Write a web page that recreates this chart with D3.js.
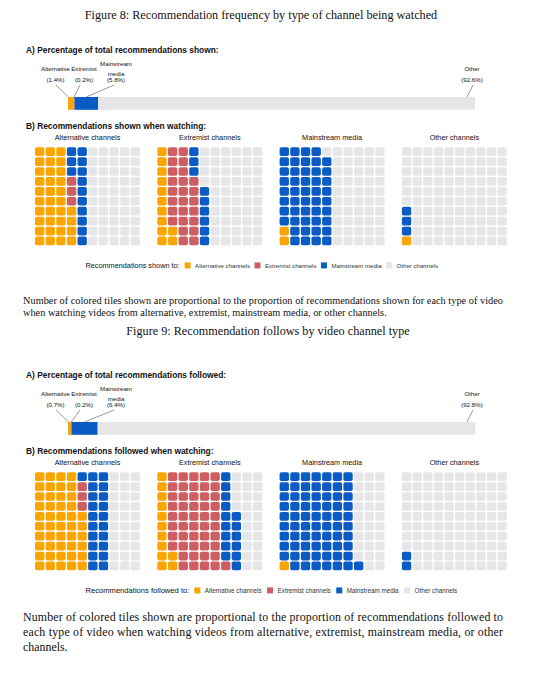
<!DOCTYPE html>
<html>
<head>
<meta charset="utf-8">
<script src="https://cdn.jsdelivr.net/npm/d3@7"></script>
<style>
  html, body { margin: 0; padding: 0; background: #fff; }
  svg { display: block; }
  .serif { font-family: "Liberation Serif", "Times New Roman", serif; fill: #111; }
  .sans { font-family: "Liberation Sans", Arial, Helvetica, sans-serif; fill: #111; }
</style>
</head>
<body>
<svg id="chart" width="536" height="680"></svg>
<script>
// ---------- DATA ----------
const categories = ["Alternative channels", "Extremist channels", "Mainstream media", "Other channels"];
const barLabels = [["Alternative"], ["Extremist"], ["Mainstream", "media"], ["Other"]];
const colors = ["#F9A602", "#CF5E63", "#0B5BC4", "#E6E6E8"];

// Panel A: percentage of total recommendations
const shownBar = [1.4, 0.2, 5.8, 92.6];
const followedBar = [0.7, 0.2, 6.4, 92.8];

// Panel B: tiles (out of 100) per watched channel type: [alt, extremist, mainstream, other]
const shownAlternative = [34, 3, 13, 50];
const shownExtremist   = [12, 25, 9, 54];
const shownMainstream  = [2, 0, 47, 51];
const shownOther       = [1, 0, 3, 96];

const followedAlternative = [46, 3, 21, 30];
const followedExtremist   = [12, 49, 15, 24];
const followedMainstream  = [1, 0, 70, 29];
const followedOther       = [0, 0, 2, 98];

const figures = [
  {
    title: "Figure 8: Recommendation frequency by type of channel being watched",
    titleX: 261, titleY: 19,
    off: 0,
    headA: "A) Percentage of total recommendations shown:",
    headB: "B) Recommendations shown when watching:",
    legendTitle: "Recommendations shown to:",
    bar: shownBar,
    tiles: [shownAlternative, shownExtremist, shownMainstream, shownOther],
    caption: ["Number of colored tiles shown are proportional to the proportion of recommendations shown for each type of video",
              "when watching videos from alternative, extremist, mainstream media, or other channels."],
    capSize: 10.3, capLead: 12.8, capY: 303.5, capJustify: [true, false]
  },
  {
    title: "Figure 9: Recommendation follows by video channel type",
    titleX: 268, titleY: 335,
    off: 325,
    headA: "A) Percentage of total recommendations followed:",
    headB: "B) Recommendations followed when watching:",
    legendTitle: "Recommendations followed to:",
    bar: followedBar,
    tiles: [followedAlternative, followedExtremist, followedMainstream, followedOther],
    caption: ["Number of colored tiles shown are proportional to the proportion of recommendations followed to",
              "each type of video when watching videos from alternative, extremist, mainstream media, or other",
              "channels."],
    capSize: 11.9, capLead: 15, capY: 620.5, capJustify: [true, true, false]
  }
];

// ---------- DRAW ----------
const svg = d3.select("#chart");
svg.append("rect").attr("width", 536).attr("height", 680).attr("fill", "#fff");

const xBar = d3.scaleLinear().domain([0, 100]).range([68, 475]);
const panelX = d3.scaleLinear().domain([0, 1]).range([35, 157.3]);
const gridW = 105, gridH = 98;

figures.forEach(fig => {
  const g = svg.append("g");
  const o = fig.off;

  // title
  g.append("text").attr("class", "serif")
    .attr("x", fig.titleX).attr("y", fig.titleY)
    .attr("text-anchor", "middle")
    .style("font-size", "12.2px")
    .text(fig.title);

  // A heading
  g.append("text").attr("class", "sans")
    .attr("x", 26).attr("y", 53 + o)
    .style("font-size", "8.4px").style("font-weight", "bold")
    .text(fig.headA);

  // stacked bar
  const stack = d3.cumsum(fig.bar);
  const segs = fig.bar.map((v, i) => ({ v, i, x0: stack[i] - v, x1: stack[i] }));
  g.selectAll("rect.seg").data(segs).join("rect")
    .attr("class", "seg")
    .attr("x", d => xBar(d.x0))
    .attr("width", d => Math.max(0, xBar(d.x1) - xBar(d.x0)))
    .attr("y", 97 + o).attr("height", 12.8)
    .attr("fill", d => colors[d.i]);

  // labels + leader lines
  const labelX = [55.5, 84, 116, 472];
  const lineTop = [[56, 85], [80, 85], [114, 85], [473, 85]];
  const endX = [
    xBar(segs[0].x0) + 0.5,
    (xBar(segs[1].x0) + xBar(segs[1].x1)) / 2,
    (xBar(segs[2].x0) + xBar(segs[2].x1)) / 2,
    xBar(100) - 8
  ];
  segs.forEach((d, i) => {
    const lines = barLabels[i].concat(["(" + d.v.toFixed(1) + "%)"]);
    let ys;
    if (lines.length === 3) ys = [66, 76, 82];
    else ys = [71, 82];
    lines.forEach((t, k) => {
      g.append("text").attr("class", "sans")
        .attr("x", labelX[i]).attr("y", ys[k] + o)
        .attr("text-anchor", "middle")
        .style("font-size", "6.1px")
        .text(t);
    });
    g.append("line")
      .attr("x1", lineTop[i][0]).attr("y1", lineTop[i][1] + o)
      .attr("x2", endX[i]).attr("y2", 97 + o)
      .attr("stroke", "#444").attr("stroke-width", 0.55);
  });

  // B heading
  g.append("text").attr("class", "sans")
    .attr("x", 26).attr("y", 129 + o)
    .style("font-size", "8.4px").style("font-weight", "bold")
    .text(fig.headB);

  // waffles
  fig.tiles.forEach((counts, p) => {
    const gx = panelX(p);
    const gy = 147.3 + o;
    const xs = d3.scaleBand().domain(d3.range(10)).range([gx, gx + gridW]).paddingInner(0.12);
    const ys = d3.scaleBand().domain(d3.range(10)).range([gy, gy + gridH]).paddingInner(0.12);
    const cells = [];
    counts.forEach((c, ci) => { for (let k = 0; k < c; k++) cells.push(ci); });
    const tiles = cells.map((ci, idx) => ({ ci, col: Math.floor(idx / 10), row: 9 - (idx % 10) }));
    g.append("text").attr("class", "sans")
      .attr("x", gx + gridW / 2).attr("y", 140.3 + o)
      .attr("text-anchor", "middle")
      .style("font-size", "7.3px")
      .text(categories[p]);
    g.selectAll(null).data(tiles).join("rect")
      .attr("x", d => xs(d.col)).attr("y", d => ys(d.row))
      .attr("width", xs.bandwidth()).attr("height", ys.bandwidth())
      .attr("rx", 1.8).attr("ry", 1.8)
      .attr("fill", d => colors[d.ci]);
  });

  // legend
  const ly = 268 + o;
  let lx = 85.5;
  const lt = g.append("text").attr("class", "sans")
    .attr("x", lx).attr("y", ly)
    .style("font-size", o ? "7.6px" : "7.3px").text(fig.legendTitle + " ");
  lx += lt.node().getComputedTextLength() + 5;
  categories.forEach((c, i) => {
    g.append("rect").attr("x", lx).attr("y", ly - 5.6).attr("width", 6).attr("height", 6)
      .attr("fill", colors[i]);
    lx += 10.5;
    const t = g.append("text").attr("class", "sans")
      .attr("x", lx).attr("y", ly - 0.2)
      .style("font-size", o ? "6.3px" : "6.1px").style("fill", "#333").text(c);
    lx += t.node().getComputedTextLength() + (o ? 5.5 : 4.5);
  });

  // caption
  fig.caption.forEach((line, k) => {
    const t = g.append("text").attr("class", "serif")
      .attr("x", 23).attr("y", fig.capY + k * fig.capLead)
      .style("font-size", fig.capSize + "px")
      .text(line);
    if (fig.capJustify[k]) {
      t.attr("textLength", 480).attr("lengthAdjust", "spacing");
    }
  });
});
</script>
</body>
</html>
